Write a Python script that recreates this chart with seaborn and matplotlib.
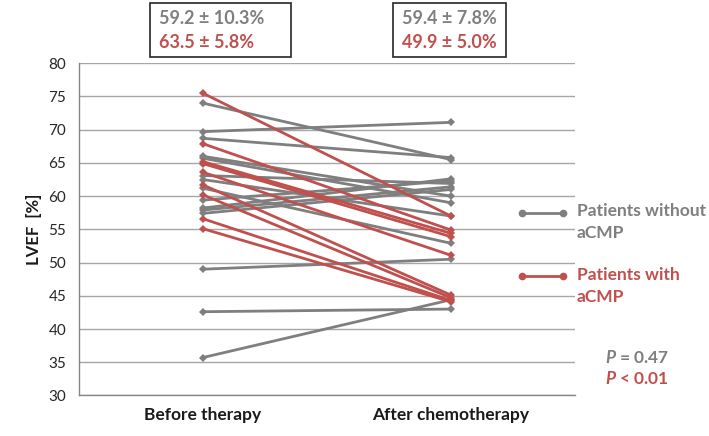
import matplotlib
matplotlib.use("Agg")
import matplotlib.pyplot as plt
import seaborn as sns
import pandas as pd
from matplotlib.lines import Line2D

# ---- data ----
timepoints = ["Before therapy", "After chemotherapy"]
without_before = [74.0, 69.7, 68.7, 66.0, 65.7, 63.1, 62.5, 61.2, 59.4, 58.2, 57.9, 57.4, 49.0, 42.6, 35.7]
without_after  = [65.5, 71.1, 65.8, 60.0, 59.0, 61.9, 57.0, 52.9, 62.3, 62.6, 61.4, 61.0, 50.5, 43.0, 44.4]
with_before = [75.5, 67.9, 65.2, 64.9, 63.6, 61.7, 60.2, 56.6, 55.1]
with_after  = [57.0, 54.9, 54.4, 53.9, 51.1, 45.1, 44.7, 44.3, 44.1]
summary_without = ["59.2 ± 10.3%", "59.4 ± 7.8%"]
summary_with = ["63.5 ± 5.8%", "49.9 ± 5.0%"]
legend_labels = ["Patients without\naCMP", "Patients with\naCMP"]
p_values = ["$\\mathit{P}$ = 0.47", "$\\mathit{P}$ < 0.01"]

GRAY = "#7f7f7f"
RED = "#c0504d"

def build(before, after, group):
    rows = []
    for i, (b, a) in enumerate(zip(before, after)):
        rows.append(dict(patient=f"{group}{i}", t=0, val=b))
        rows.append(dict(patient=f"{group}{i}", t=1, val=a))
    return pd.DataFrame(rows)

df_wo = build(without_before, without_after, "wo")
df_w = build(with_before, with_after, "w")

sns.set_style("white")
plt.rcParams['font.family'] = ['Lato', 'DejaVu Sans']
plt.rcParams['mathtext.fontset'] = 'custom'
plt.rcParams['mathtext.it'] = 'Lato:italic:bold'
plt.rcParams['mathtext.rm'] = 'Lato:bold'

fig = plt.figure(figsize=(7.09, 4.36), dpi=100)
ax = fig.add_axes([0.111, 0.093, 0.700, 0.762])

for df, col in [(df_wo, GRAY), (df_w, RED)]:
    sns.lineplot(data=df, x="t", y="val", units="patient", estimator=None,
                 color=col, marker="D", markersize=4.5, markeredgewidth=0,
                 linewidth=2.0, ax=ax, legend=False)

ax.set_xlim(-0.5, 1.5)
ax.set_ylim(30, 80)
ax.set_yticks(range(30, 81, 5))
ax.yaxis.grid(True, color="#a6a6a6", linewidth=1.0)
ax.set_axisbelow(True)
ax.set_xticks([-0.5, 0.5, 1.5])
ax.set_xticklabels([])
ax.tick_params(axis="x", length=5, color="#868686", width=1, direction="out")
ax.tick_params(axis="y", length=5, color="#868686", width=1, direction="out",
               labelsize=11, labelcolor="#262626", pad=4)
for s in ["top", "right"]:
    ax.spines[s].set_visible(False)
for s in ["left", "bottom"]:
    ax.spines[s].set_color("#868686")
    ax.spines[s].set_linewidth(1)
ax.set_xlabel("")
ax.set_ylabel("LVEF  [%]", fontsize=12, fontweight="bold", color="#1a1a1a", labelpad=5)

for i, lab in enumerate(timepoints):
    ax.text(i, -0.06, lab, transform=ax.get_xaxis_transform(), ha="center", va="center",
            fontsize=12.5, fontweight="bold", color="#1a1a1a")

# summary boxes
def px(x, y):
    return x / 709, 1 - y / 436

boxes = [(150, 3, 141, 54), (393, 3, 113, 54)]
for (bx, by, bw, bh), s1, s2 in zip(boxes, summary_without, summary_with):
    x0, y1 = px(bx, by + bh)
    fig.patches.append(plt.Rectangle((x0, y1), bw / 709, bh / 436, transform=fig.transFigure,
                                     fill=False, edgecolor="#262626", linewidth=1.2))
    fig.text(*px(bx + 9, 18), s1, ha="left", va="center", fontsize=13, fontweight="bold", color=GRAY)
    fig.text(*px(bx + 9, 42), s2, ha="left", va="center", fontsize=13, fontweight="bold", color=RED)

# legend
for (ly, ty), col, lab in [((213, 222), GRAY, legend_labels[0]), ((276, 286), RED, legend_labels[1])]:
    fig.lines.append(Line2D([522 / 709, 563 / 709], [1 - ly / 436] * 2, transform=fig.transFigure,
                            color=col, linewidth=2, marker="o", markersize=4.5))
    fig.text(577 / 709, 1 - ty / 436, lab, ha="left", va="center", fontsize=12.5,
             fontweight="bold", color=col, linespacing=1.45)

fig.text(*px(637, 357), p_values[0], ha="center", va="center", fontsize=12.5, fontweight="bold", color=GRAY)
fig.text(*px(637, 379), p_values[1], ha="center", va="center", fontsize=12.5, fontweight="bold", color=RED)

fig.savefig("out.png", dpi=100)
